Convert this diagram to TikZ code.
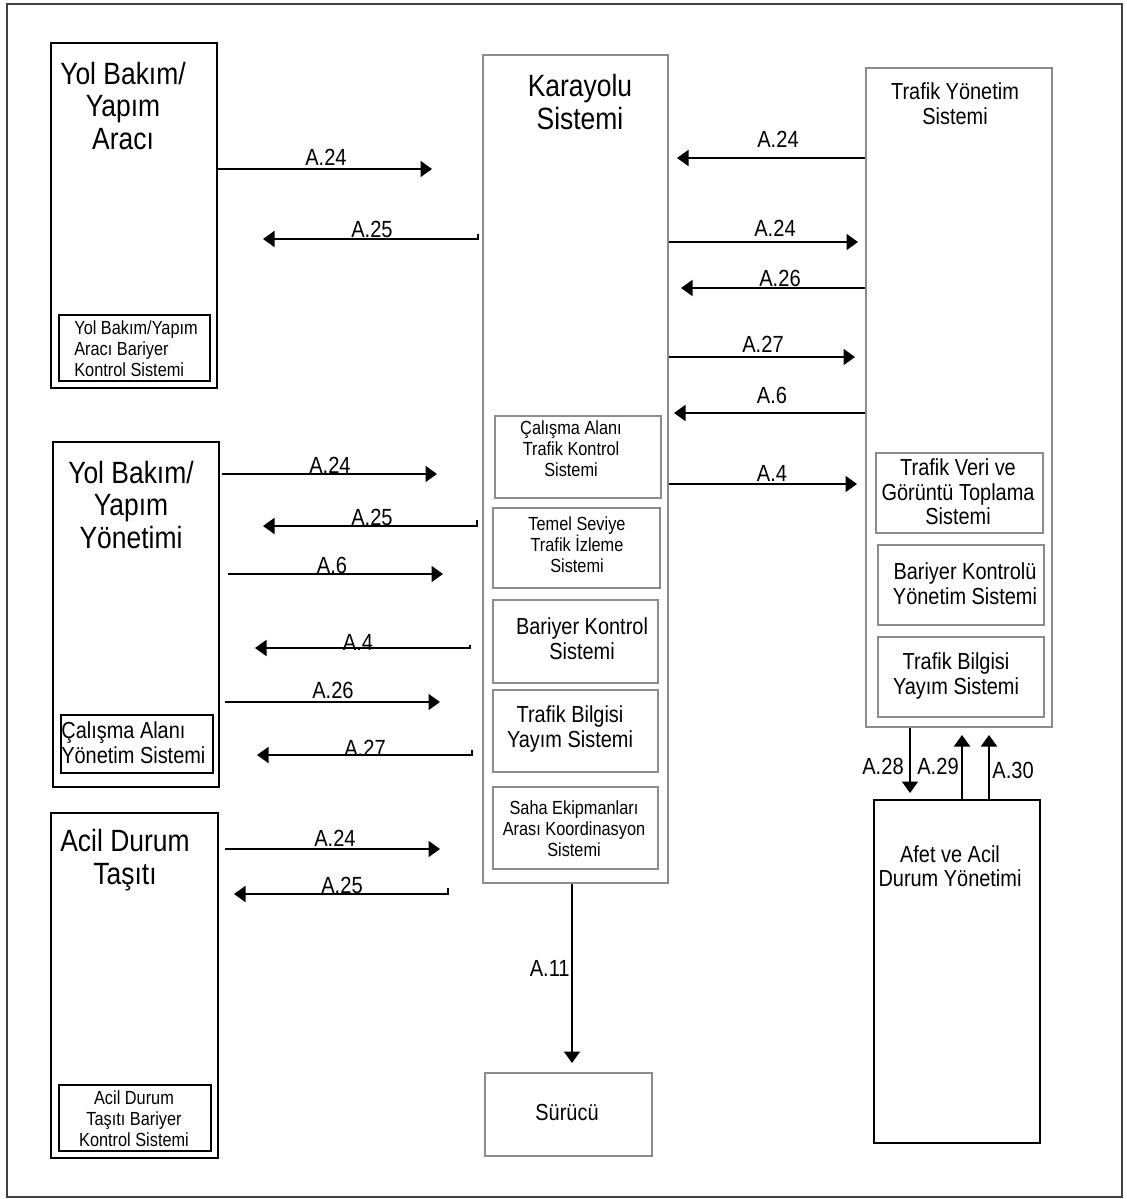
\documentclass[tikz,border=0pt]{standalone}
\usepackage{fontspec}
\setmainfont{Liberation Sans}[FakeStretch=0.86]
\usetikzlibrary{arrows.meta}
\begin{document}
\begin{tikzpicture}[x=0.02cm, y=-0.02cm,
  sz/.style 2 args={minimum width=#1*0.02cm, minimum height=#2*0.02cm},
  blackbox/.style={draw=black, line width=1.1pt, inner sep=0pt, anchor=north west},
  graybox/.style={draw=black!45, line width=1pt, inner sep=0pt, anchor=north west},
  frame/.style={draw=black!75, line width=1.1pt},
  title/.style={inner sep=0pt, align=center, font=\fontsize{17.5pt}{18.4pt}\selectfont},
  mid/.style={inner sep=0pt, align=center, font=\fontsize{13.2pt}{14pt}\selectfont},
  small/.style={inner sep=0pt, align=center, font=\fontsize{10.8pt}{11.9pt}\selectfont},
  lbl/.style={inner sep=0pt, anchor=base, font=\fontsize{13.3pt}{13.3pt}\selectfont},
  flow/.style={draw=black, line width=1pt, -{Triangle[length=2.3mm, width=3.2mm]}},
]
\useasboundingbox (0,0) rectangle (1126,1199);
\draw[frame] (7,4) rectangle (1122,1197);

% ---- left column: vehicles and management ----
\node[blackbox, sz={166}{345}] (yba) at (50,42) {};
\node[blackbox, sz={151}{66}] (ybain) at (58,314) {};
\node[title] (ybat) at (123,106) {Yol Bakım/\\Yapım\\Aracı};
\node[small, align=left, anchor=west] (ybaint) at (74,349) {Yol Bakım/Yapım\\Aracı Bariyer\\Kontrol Sistemi};

\node[blackbox, sz={166}{345}] (yby) at (52,441) {};
\node[blackbox, sz={152}{58}] (ybyin) at (60,714) {};
\node[title] (ybyt) at (131,505) {Yol Bakım/\\Yapım\\Yönetimi};
\node[mid, align=left, anchor=west] (ybyint) at (61,743) {Çalışma Alanı\\Yönetim Sistemi};

\node[blackbox, sz={167}{345}] (adt) at (50,812) {};
\node[blackbox, sz={152}{66}] (adtin) at (58,1084) {};
\node[title] (adtt) at (125,860) {Acil Durum\\Taşıtı};
\node[small] (adtint) at (134,1119) {Acil Durum\\Taşıtı Bariyer\\Kontrol Sistemi};

% ---- road system ----
\node[graybox, sz={185}{828}] (kar) at (482,54) {};
\node[title] (kart) at (580,102) {Karayolu\\Sistemi};
\node[graybox, sz={166}{82}] (kar1) at (494,415) {};
\node[small] (kar1t) at (571,449) {Çalışma Alanı\\Trafik Kontrol\\Sistemi};
\node[graybox, sz={167}{80}] (kar2) at (492,507) {};
\node[small] (kar2t) at (577,545) {Temel Seviye\\Trafik İzleme\\Sistemi};
\node[graybox, sz={165}{83}] (kar3) at (492,599) {};
\node[mid] (kar3t) at (582,639) {Bariyer Kontrol\\Sistemi};
\node[graybox, sz={165}{82}] (kar4) at (492,689) {};
\node[mid] (kar4t) at (570,729) {Trafik Bilgisi\\Yayım Sistemi};
\node[graybox, sz={165}{82}] (kar5) at (492,786) {};
\node[small] (kar5t) at (574,829) {Saha Ekipmanları\\Arası Koordinasyon\\Sistemi};

\node[graybox, sz={167}{83}] (sur) at (484,1072) {};
\node[mid] (surt) at (567,1113) {Sürücü};

% ---- traffic management ----
\node[graybox, sz={186}{659}] (tys) at (865,67) {};
\node[mid] (tyst) at (955,104) {Trafik Yönetim\\Sistemi};
\node[graybox, sz={167}{80}] (tys1) at (875,452) {};
\node[mid] (tys1t) at (958,492) {Trafik Veri ve\\Görüntü Toplama\\Sistemi};
\node[graybox, sz={166}{80}] (tys2) at (877,544) {};
\node[mid] (tys2t) at (965,584) {Bariyer Kontrolü\\Yönetim Sistemi};
\node[graybox, sz={166}{80}] (tys3) at (877,636) {};
\node[mid] (tys3t) at (956,676) {Trafik Bilgisi\\Yayım Sistemi};

\node[blackbox, sz={166}{343}] (afet) at (873,799) {};
\node[mid] (afett) at (950,866) {Afet ve Acil\\Durum Yönetimi};

% ---- flow end points ----
\coordinate (e1) at (432,169);
\coordinate (s2) at (478,234); \coordinate (e2) at (263,239);
\coordinate (e3) at (677,158);
\coordinate (e4) at (858,242);
\coordinate (e5) at (681,288);
\coordinate (e6) at (855,357);
\coordinate (e7) at (674,413);
\coordinate (e8) at (857,484);
\coordinate (s9) at (222,474); \coordinate (e9) at (437,474);
\coordinate (s10) at (477,520); \coordinate (e10) at (263,526);
\coordinate (s11) at (228,574); \coordinate (e11) at (443,574);
\coordinate (s12) at (470,645); \coordinate (e12) at (255,648);
\coordinate (s13) at (225,702); \coordinate (e13) at (440,702);
\coordinate (s14) at (472,750); \coordinate (e14) at (257,755);
\coordinate (s15) at (225,849); \coordinate (e15) at (440,849);
\coordinate (s16) at (448,888); \coordinate (e16) at (234,894);
\coordinate (e17) at (572,1063);
\coordinate (e18) at (910,793);
\coordinate (e19) at (962,735);
\coordinate (e20) at (989,735);

% ---- flows ----
\draw[flow] (yba.east |- e1) -- (e1);
\draw[flow] (s2) |- (e2);
\draw[flow] (tys.west |- e3) -- (e3);
\draw[flow] (kar.east |- e4) -- (e4);
\draw[flow] (tys.west |- e5) -- (e5);
\draw[flow] (kar.east |- e6) -- (e6);
\draw[flow] (tys.west |- e7) -- (e7);
\draw[flow] (kar.east |- e8) -- (e8);
\draw[flow] (s9) -- (e9);
\draw[flow] (s10) |- (e10);
\draw[flow] (s11) -- (e11);
\draw[flow] (s12) |- (e12);
\draw[flow] (s13) -- (e13);
\draw[flow] (s14) |- (e14);
\draw[flow] (s15) -- (e15);
\draw[flow] (s16) |- (e16);
\draw[flow] (kar.south -| e17) -- (e17);
\draw[flow] (tys.south -| e18) -- (e18);
\draw[flow] (afet.north -| e19) -- (e19);
\draw[flow] (afet.north -| e20) -- (e20);

% ---- flow labels ----
\node[lbl] (l1) at (326,166) {A.24};
\node[lbl] (l2) at (372,238) {A.25};
\node[lbl] (l3) at (778,148) {A.24};
\node[lbl] (l4) at (775,237) {A.24};
\node[lbl] (l5) at (780,287) {A.26};
\node[lbl] (l6) at (763,352) {A.27};
\node[lbl] (l7) at (772,403) {A.6};
\node[lbl] (l8) at (772,481) {A.4};
\node[lbl] (l9) at (330,473) {A.24};
\node[lbl] (l10) at (372,525) {A.25};
\node[lbl] (l11) at (332,573) {A.6};
\node[lbl] (l12) at (358,650) {A.4};
\node[lbl] (l13) at (333,698) {A.26};
\node[lbl] (l14) at (365,756) {A.27};
\node[lbl] (l15) at (335,846) {A.24};
\node[lbl] (l16) at (342,893) {A.25};
\node[lbl, anchor=base east] (l17) at (570,976) {A.11};
\node[lbl] (l18) at (883,774) {A.28};
\node[lbl] (l19) at (938,774) {A.29};
\node[lbl] (l20) at (1013,778) {A.30};
\end{tikzpicture}
\end{document}
